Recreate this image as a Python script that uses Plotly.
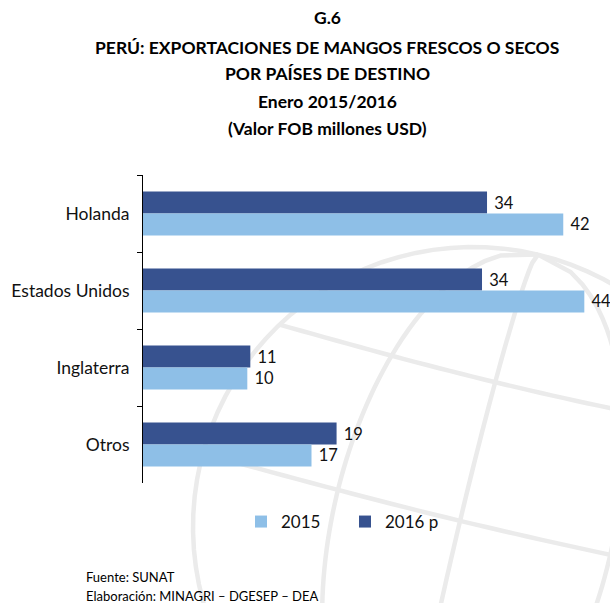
import math
import plotly.graph_objects as go

categories = ["Holanda", "Estados Unidos", "Inglaterra", "Otros"]
values_2016p = [34.3, 33.8, 10.7, 19.3]
values_2015 = [41.9, 44.0, 10.4, 16.8]
series_names = ["2016 p", "2015"]
title_lines = [
    "G.6",
    "PERÚ: EXPORTACIONES DE MANGOS FRESCOS O SECOS",
    "POR PAÍSES DE DESTINO",
    "Enero 2015/2016",
    "(Valor FOB millones USD)",
]
source_lines = ["Fuente: SUNAT", "Elaboración: MINAGRI – DGESEP – DEA"]

DARK = "#37528f"
LIGHT = "#8ebfe7"
FONT = "Lato"

W, H = 610, 603
L, R, T, B = 143, 0, 175, 120
PW, PH = W - L - R, H - T - B


def px(X):
    return (X - L) / PW


def py(Y):
    return (H - B - Y) / PH


fig = go.Figure()
fig.add_trace(go.Bar(
    y=categories, x=values_2016p, orientation="h", name=series_names[0],
    marker=dict(color=DARK, line=dict(width=0)), legendrank=2,
    texttemplate="\u00a0%{x:.0f}", textposition="outside",
    textfont=dict(family=FONT, size=16.5, color="#111"), cliponaxis=False,
))
fig.add_trace(go.Bar(
    y=categories, x=values_2015, orientation="h", name=series_names[1],
    marker=dict(color=LIGHT, line=dict(width=0)), legendrank=1,
    texttemplate="\u00a0%{x:.0f}", textposition="outside",
    textfont=dict(family=FONT, size=16.5, color="#111"), cliponaxis=False,
))

# decorative globe watermark (pixel geometry -> paper coords)
cx, cy, Rg = 473, 527, 280
th = math.radians(13.4)
ux, uy = math.cos(th), math.sin(th)
vx, vy = -math.sin(th), math.cos(th)


def to_paper(u, v):
    X = cx + u * ux + v * vx
    Y = cy + u * uy + v * vy
    return px(X), py(Y)


def path_from(points):
    s = ""
    for i, (a, b) in enumerate(points):
        s += ("M" if i == 0 else "L") + f"{a:.5f},{b:.5f} "
    return s


shapes = []
gl = dict(color="#ebebeb", width=4.5)
pts = [to_paper(Rg * math.cos(t / 100 * 2 * math.pi), Rg * math.sin(t / 100 * 2 * math.pi)) for t in range(101)]
shapes.append(dict(type="path", xref="paper", yref="paper", path=path_from(pts), line=gl, layer="below"))
for a in (-140, 140, -14):
    pts = []
    for i in range(61):
        v = -Rg + 2 * Rg * i / 60
        u = a * math.sqrt(max(0.0, 1 - (v / Rg) ** 2))
        pts.append(to_paper(u, v))
    shapes.append(dict(type="path", xref="paper", yref="paper", path=path_from(pts), line=gl, layer="below"))
for v in (-152, -9):
    half = math.sqrt(Rg ** 2 - v ** 2)
    pts = [to_paper(-half + 2 * half * i / 40, v + 6 * math.sin(math.pi * i / 40)) for i in range(41)]
    shapes.append(dict(type="path", xref="paper", yref="paper", path=path_from(pts), line=gl, layer="below"))

annotations = []
title_y = [18, 47, 74, 101, 128]
for txt, Y in zip(title_lines, title_y):
    annotations.append(dict(
        text=f"<b>{txt}</b>", x=px(327), y=py(Y), xref="paper", yref="paper",
        xanchor="center", yanchor="middle", showarrow=False,
        font=dict(family=FONT, size=17.5, color="#000"),
    ))
for txt, Y in zip(source_lines, [577, 596]):
    annotations.append(dict(
        text=txt, x=px(84), y=py(Y), xref="paper", yref="paper",
        xanchor="left", yanchor="middle", showarrow=False,
        font=dict(family=FONT, size=13, color="#000"),
    ))

fig.update_layout(
    width=W, height=H,
    margin=dict(l=L, r=R, t=T, b=B, pad=0),
    paper_bgcolor="white", plot_bgcolor="rgba(0,0,0,0)",
    barmode="group", bargap=0.43, bargroupgap=0,
    font=dict(family=FONT, size=16, color="#000"),
    xaxis=dict(range=[0, PW / 10.03], visible=False, fixedrange=True),
    yaxis=dict(
        categoryorder="array", categoryarray=categories, autorange="reversed",
        showline=True, linecolor="#000", linewidth=1,
        ticks="outside", tickson="boundaries", ticklen=5, tickcolor="#000",
        showgrid=False, zeroline=False, ticksuffix="  ",
        tickfont=dict(family=FONT, size=17.5, color="#111"),
    ),
    legend=dict(
        orientation="h", x=px(241), y=py(522), xanchor="left", yanchor="middle",
        entrywidth=59, entrywidthmode="pixels", itemwidth=30,
        font=dict(family=FONT, size=17, color="#111"), bgcolor="rgba(0,0,0,0)",
    ),
    shapes=shapes,
    annotations=annotations,
    showlegend=True,
)

fig.write_html(
    "out.html",
    config={"displayModeBar": False},
    post_script="document.body.style.margin='0';",
)
